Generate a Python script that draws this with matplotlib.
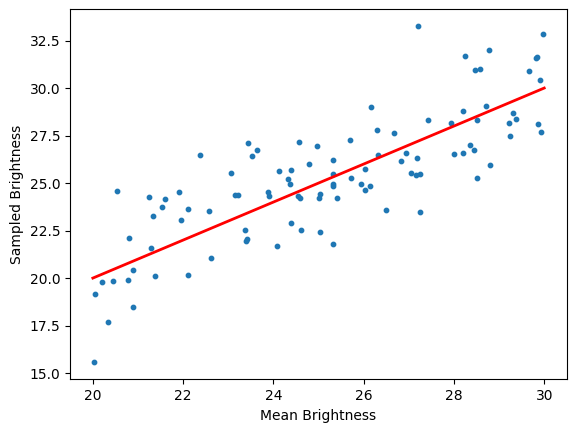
import matplotlib
matplotlib.use('Agg')
import matplotlib.pyplot as plt

# Data
mean_brightness = [
    20.02, 20.04, 20.20, 20.33, 20.44, 20.53, 20.78, 20.80, 20.89, 20.89,
    21.24, 21.29, 21.33, 21.38, 21.53, 21.60, 21.91, 21.96, 22.11, 22.11,
    22.38, 22.58, 22.62, 23.05, 23.16, 23.22, 23.36, 23.40, 23.42, 23.44,
    23.53, 23.64, 23.87, 23.91, 24.07, 24.13, 24.33, 24.36, 24.38, 24.40,
    24.54, 24.56, 24.60, 24.62, 24.78, 24.96, 25.02, 25.04, 25.04, 25.31,
    25.31, 25.33, 25.31, 25.33, 25.42, 25.69, 25.73, 25.93, 26.02, 26.04,
    26.13, 26.16, 26.29, 26.31, 26.49, 26.68, 26.82, 26.93, 27.04, 27.16,
    27.18, 27.20, 27.24, 27.24, 27.42, 27.93, 28.00, 28.20, 28.20, 28.24,
    28.36, 28.44, 28.47, 28.51, 28.51, 28.58, 28.71, 28.78, 28.80, 29.22,
    29.24, 29.31, 29.38, 29.67, 29.82, 29.85, 29.87, 29.91, 29.93, 29.98,
]
sampled_brightness = [
    15.56, 19.15, 19.79, 17.67, 19.83, 24.58, 19.89, 22.10, 20.42, 18.46,
    24.26, 21.57, 23.26, 20.10, 23.73, 24.16, 24.52, 23.05, 23.63, 20.15,
    26.48, 23.52, 21.05, 25.53, 24.37, 24.37, 22.52, 21.94, 22.05, 27.11,
    26.42, 26.74, 24.52, 24.31, 21.68, 25.63, 25.21, 24.95, 25.68, 22.89,
    24.31, 27.16, 24.21, 22.52, 26.00, 26.95, 24.21, 24.42, 22.42, 21.78,
    26.21, 25.47, 24.95, 24.84, 24.21, 27.27, 25.26, 24.95, 24.63, 25.74,
    24.84, 29.00, 27.79, 26.47, 23.58, 27.63, 26.16, 26.58, 25.53, 25.42,
    26.32, 33.27, 25.47, 23.47, 28.32, 28.16, 26.53, 26.58, 28.79, 31.70,
    27.00, 26.74, 30.96, 28.32, 25.26, 31.00, 29.06, 32.00, 25.95, 28.16,
    27.48, 28.69, 28.37, 30.90, 31.59, 31.62, 28.11, 30.43, 27.69, 32.85,
]
line_x = [20, 30]
line_y = [20, 30]

plt.figure(figsize=(5.76, 4.32), dpi=100)
plt.scatter(mean_brightness, sampled_brightness, s=10)
plt.plot(line_x, line_y, color='red', linewidth=2)

plt.xlabel('Mean Brightness')
plt.ylabel('Sampled Brightness')

plt.subplots_adjust(left=0.122, right=0.984, bottom=0.122, top=0.979)
plt.savefig('out.png', dpi=100)
